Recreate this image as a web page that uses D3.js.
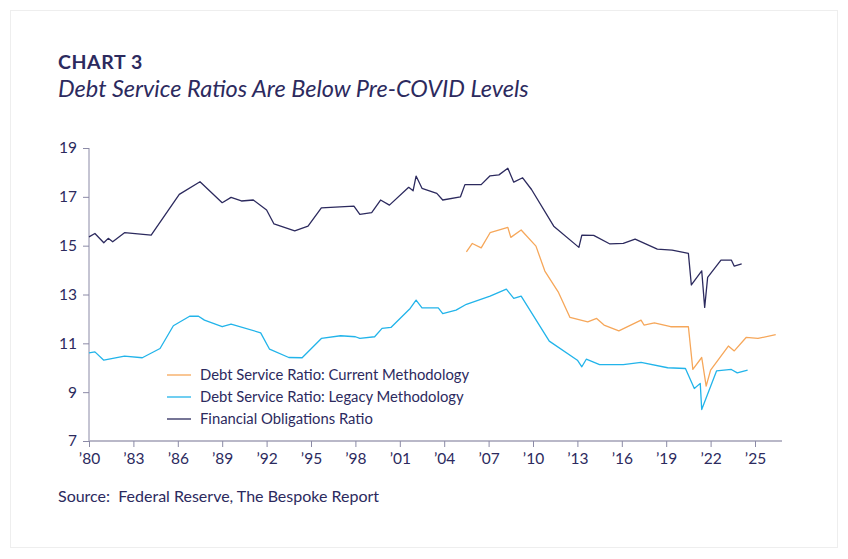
<!DOCTYPE html>
<html><head><meta charset="utf-8">
<script src="https://cdn.jsdelivr.net/npm/d3@7"></script>
<style>body{margin:0;background:#fff;}svg{display:block;font-family:Lato,"Open Sans",sans-serif;}text{white-space:pre;}</style>
</head><body><svg id="c" width="848" height="559"></svg>
<script>
const forYears=[1980.0,1980.4,1981.0,1981.3,1981.6,1982.4,1984.2,1985.4,1986.1,1987.5,1989.0,1989.6,1990.3,1991.1,1992.0,1992.5,1993.9,1994.8,1995.7,1997.9,1998.3,1999.1,1999.7,2000.3,2001.6,2001.9,2002.1,2002.5,2003.5,2003.9,2005.1,2005.4,2006.5,2007.1,2007.7,2008.3,2008.7,2009.3,2009.9,2011.4,2013.1,2013.3,2014.1,2015.2,2016.1,2016.9,2018.4,2019.4,2020.5,2020.7,2021.4,2021.6,2021.8,2022.7,2023.4,2023.6,2024.1];
const forValues=[15.36,15.5,15.12,15.3,15.16,15.53,15.43,16.49,17.1,17.62,16.76,16.98,16.83,16.87,16.46,15.89,15.61,15.8,16.55,16.62,16.28,16.35,16.87,16.66,17.39,17.25,17.85,17.35,17.14,16.87,17.0,17.5,17.5,17.86,17.9,18.17,17.6,17.78,17.3,15.8,14.93,15.43,15.42,15.07,15.09,15.27,14.86,14.82,14.68,13.39,13.97,12.47,13.7,14.41,14.41,14.16,14.25];
const curYears=[2005.5,2005.9,2006.5,2007.1,2008.3,2008.5,2009.2,2010.2,2010.8,2011.7,2012.5,2013.7,2014.3,2014.8,2015.8,2017.3,2017.5,2018.2,2019.3,2020.5,2020.8,2021.4,2021.7,2022.0,2023.2,2023.6,2024.4,2025.2,2026.4];
const curValues=[14.75,15.09,14.91,15.53,15.75,15.34,15.64,14.98,13.96,13.11,12.06,11.88,12.02,11.75,11.51,11.95,11.75,11.84,11.68,11.68,9.93,10.42,9.25,9.9,10.89,10.69,11.24,11.2,11.36];
const legYears=[1980.0,1980.4,1981.0,1982.4,1983.6,1984.8,1985.7,1986.8,1987.4,1987.8,1989.0,1989.6,1991.6,1992.2,1993.5,1994.4,1995.7,1997.0,1998.0,1998.3,1999.3,1999.8,2000.4,2001.7,2002.1,2002.5,2003.6,2003.9,2004.8,2005.5,2007.1,2008.2,2008.7,2009.2,2011.1,2013.0,2013.3,2013.6,2014.5,2016.1,2017.3,2019.1,2020.3,2020.9,2021.3,2021.4,2022.4,2023.4,2023.8,2024.5];
const legValues=[10.61,10.65,10.31,10.48,10.41,10.79,11.72,12.11,12.11,11.95,11.68,11.79,11.43,10.76,10.42,10.41,11.2,11.31,11.27,11.2,11.27,11.61,11.65,12.43,12.77,12.45,12.45,12.22,12.36,12.6,12.93,13.22,12.84,12.93,11.09,10.31,10.04,10.35,10.13,10.13,10.22,10.0,9.97,9.15,9.36,8.29,9.87,9.93,9.79,9.9];
const xTicks=[1980,1983,1986,1989,1992,1995,1998,2001,2004,2007,2010,2013,2016,2019,2022,2025];
const yTicks=[7,9,11,13,15,17,19];
const seriesNames=["Debt Service Ratio: Current Methodology","Debt Service Ratio: Legacy Methodology","Financial Obligations Ratio"];
const colors=["#f6a75a","#22b4ea","#2c2a5e"];
const navy="#2c2a5e";

const svg=d3.select("#c");
svg.append("rect").attr("x",10.5).attr("y",10.5).attr("width",827).attr("height",537).attr("fill","#fff").attr("stroke","#eeeeee");
svg.append("text").attr("x",58).attr("y",69).attr("fill",navy).attr("font-size",19.5).attr("font-weight",700).attr("letter-spacing",0.6).text("CHART 3");
svg.append("text").attr("x",58).attr("y",97).attr("fill",navy).attr("font-size",23.5).attr("font-style","italic").text("Debt Service Ratios Are Below Pre-COVID Levels");
svg.append("text").attr("x",58).attr("y",502).attr("fill",navy).attr("font-size",16).text("Source:  Federal Reserve, The Bespoke Report");

const x=d3.scaleLinear().domain([1980,2025]).range([89,755]);
const y=d3.scaleLinear().domain([7,19]).range([441,148]);

const ya=svg.append("g").attr("transform","translate(89,0)").call(d3.axisLeft(y).tickValues(yTicks).tickSize(6).tickPadding(6));
ya.select(".domain").attr("stroke","#8b8aa6").attr("d","M0,148V441");
ya.selectAll(".tick line").attr("stroke","#8b8aa6");
ya.selectAll("text").attr("fill",navy).attr("font-size",15.5).attr("font-family","Lato,sans-serif");

const xa=svg.append("g").attr("transform","translate(0,441)").call(d3.axisBottom(x).tickValues(xTicks).tickSize(6).tickPadding(6).tickFormat(d=>"\u2019"+String(d).slice(2)));
xa.select(".domain").attr("stroke","#b9b8c8").attr("stroke-width",2).attr("d","M89,0H782");
xa.selectAll(".tick line").attr("stroke","#8b8aa6");
xa.selectAll("text").attr("fill",navy).attr("font-size",15.5).attr("font-family","Lato,sans-serif");

const line=d3.line().x(d=>x(d[0])).y(d=>y(d[1]));
const data=[d3.zip(curYears,curValues),d3.zip(legYears,legValues),d3.zip(forYears,forValues)];
data.forEach((d,i)=>svg.append("path").datum(d).attr("d",line).attr("fill","none").attr("stroke",colors[i]).attr("stroke-width",1.3).attr("stroke-linejoin","round"));

seriesNames.forEach((n,i)=>{
  const yy=375+i*22;
  svg.append("line").attr("x1",167).attr("x2",191).attr("y1",yy).attr("y2",yy).attr("stroke",colors[i]).attr("stroke-width",1.3);
  svg.append("text").attr("x",200).attr("y",yy+5).attr("fill",navy).attr("font-size",14.8).text(n);
});
</script></body></html>
